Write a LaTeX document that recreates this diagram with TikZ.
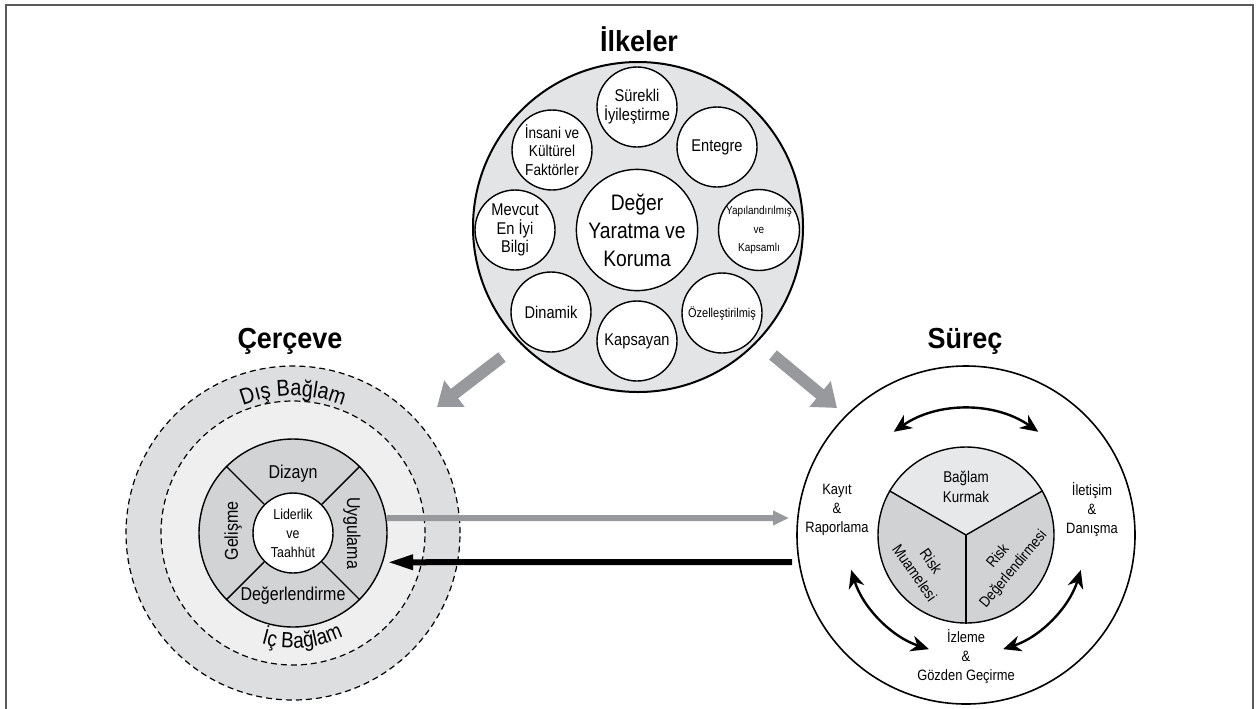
\documentclass[tikz,border=0pt]{standalone}
\usepackage{fontspec}
\setmainfont[FakeStretch=0.86]{Liberation Sans}
\newfontfamily\headfont[FakeStretch=0.93]{Liberation Sans}
\usepackage{tikz}
\usetikzlibrary{arrows.meta}
\usetikzlibrary{decorations.text}

\definecolor{framegray}{RGB}{90,90,90}
\definecolor{ilkefill}{RGB}{227,228,229}
\definecolor{disfill}{RGB}{221,222,223}
\definecolor{icfill}{RGB}{239,239,240}
\definecolor{dongufill}{RGB}{210,211,212}
\definecolor{pastafill}{RGB}{209,210,211}
\definecolor{pastatop}{RGB}{231,232,233}
\definecolor{okgray}{RGB}{152,153,156}

\tikzset{
  baslik/.style={font=\headfont\bfseries\fontsize{14.5}{16}\selectfont},
  ilke/.style={circle, draw, line width=0.7pt, fill=white, minimum size=40pt,
    inner sep=0pt, align=center, font=\fontsize{8.5}{9.4}\selectfont},
  halka/.style={font=\fontsize{9.3}{11}\selectfont},
  adim/.style={align=center, font=\fontsize{7.5}{9.5}\selectfont},
  ciftok/.style={line width=1.2pt,
    {Stealth[length=9pt,width=8pt]}-{Stealth[length=9pt,width=8pt]}},
  kesik/.style={draw, line width=0.6pt, dash pattern=on 3pt off 2pt}
}

\begin{document}
\begin{tikzpicture}[x=0.5pt,y=-0.5pt]
\useasboundingbox (0,0) rectangle (1258,708);
\coordinate (ilk) at (638,227);
\coordinate (cer) at (293,533);
\coordinate (sur) at (966,535);
\coordinate (solbas) at (502,357);
\coordinate (soluc) at (437,407);
\coordinate (sagbas) at (773,355);
\coordinate (saguc) at (837,408);
\coordinate (griuc) at (789,518);
\coordinate (siyahbas) at (792,562);
% draws frame
\draw[framegray, line width=1pt] (6,720) -- (6,5) -- (1253,5) -- (1253,720);
% titles
\node[baslik] (tilke) at (639,39) {İlkeler};
\node[baslik] (tcer) at (290,341) {Çerçeve};
\node[baslik] (tsur) at (965,341) {Süreç};
% draws principles
\node[circle, draw, line width=1pt, fill=ilkefill, minimum size=165pt] (ilkeler) at (ilk) {};
\node[ilke, minimum size=57pt, font=\fontsize{11.2}{14}\selectfont] (deger) at (637,230) {Değer\\Yaratma ve\\Koruma};
\node[ilke] (surekli) at (637,107) {Sürekli\\İyileştirme};
\node[ilke] (entegre) at (717,147) {Entegre};
\node[ilke, font=\fontsize{5.8}{9.2}\selectfont] (yapi) at (759,230) {Yapılandırılmış\\ve\\Kapsamlı};
\node[ilke, font=\fontsize{6.4}{8}\selectfont] (ozel) at (722,313) {Özelleştirilmiş};
\node[ilke] (kapsayan) at (637,341) {Kapsayan};
\node[ilke] (dinamik) at (551,312) {Dinamik};
\node[ilke] (mevcut) at (515,230) {Mevcut\\En İyi\\Bilgi};
\node[ilke, font=\fontsize{7.9}{9.2}\selectfont] (insani) at (552,150) {İnsani ve\\Kültürel\\Faktörler};
% draws framework
\node[circle, kesik, fill=disfill, minimum size=167pt] (dis) at (cer) {};
\node[circle, kesik, fill=icfill, minimum size=132pt] (ic) at (cer) {};
\node[circle, draw, line width=0.7pt, fill=dongufill, minimum size=94pt] (dongu) at (cer) {};
\node[circle, draw, line width=0.7pt, fill=white, minimum size=40pt, inner sep=0pt,
  align=center, font=\fontsize{7.2}{9.5}\selectfont] (liderlik) at (cer) {Liderlik\\ve\\Taahhüt};
\foreach \a in {45,135,225,315}
  \draw[line width=0.7pt] (liderlik.\a) -- (dongu.\a);
\node[halka] (dizayn) at (293,474) {Dizayn};
\node[halka] (degerl) at (293,596) {Değerlendirme};
\node[halka, rotate=-90] (uygulama) at (352,533) {Uygulama};
\node[halka, rotate=90] (gelisme) at (233,531) {Gelişme};
% labels along the rings
\path[decorate, decoration={text along path, text align=center,
  text={|\fontsize{11.5}{13}\selectfont|Dış Bağlam}}]
  ([shift={(210:137)}]cer) arc[start angle=210, end angle=330, radius=137];
\path[decorate, decoration={text along path, text align=center,
  text={|\fontsize{11}{13}\selectfont|İç Bağlam}}]
  ([shift={(145:115)}]cer) arc[start angle=145, end angle=25, radius=115];
% draws process
\node[circle, draw, line width=0.8pt, minimum size=169pt] (surec) at (sur) {};
\fill[pastatop] (sur) -- ([shift={(210:88)}]sur) arc[start angle=210, end angle=330, radius=88] -- cycle;
\fill[pastafill] (sur) -- ([shift={(330:88)}]sur) arc[start angle=330, end angle=450, radius=88] -- cycle;
\fill[pastafill] (sur) -- ([shift={(90:88)}]sur) arc[start angle=90, end angle=210, radius=88] -- cycle;
\node[circle, draw, line width=0.7pt, minimum size=88pt] (pasta) at (sur) {};
\draw[line width=0.7pt] (pasta.center) -- (pasta.150);
\draw[line width=0.7pt] (pasta.center) -- (pasta.30);
\draw[line width=0.7pt] (pasta.center) -- (pasta.270);
\node[adim, font=\fontsize{7.8}{10}\selectfont] (baglam) at (966,487) {Bağlam\\Kurmak};
\node[adim, font=\fontsize{7.8}{10}\selectfont, rotate=-55] (muamele) at (923,567) {Risk\\Muamelesi};
\node[adim, font=\fontsize{7.6}{10}\selectfont, rotate=50] (degerlendirme) at (1006,563) {Risk\\Değerlendirmesi};
\node[adim] (kayit) at (837,510) {Kayıt\\\&\\Raporlama};
\node[adim] (iletisim) at (1092,510) {İletişim\\\&\\Danışma};
\node[adim] (izleme) at (966,657) {İzleme\\\&\\Gözden Geçirme};
\draw[ciftok] ([shift={(235:126)}]sur) arc[start angle=235, end angle=305, radius=126];
\draw[ciftok] ([shift={(163:120)}]sur) arc[start angle=163, end angle=108, radius=120];
\draw[ciftok] ([shift={(17:120)}]sur) arc[start angle=17, end angle=72, radius=120];
% draws connecting arrows
\draw[line width=6pt, okgray, -{Triangle[length=11pt,width=16pt]}] (solbas) -- (soluc);
\draw[line width=6pt, okgray, -{Triangle[length=11pt,width=16pt]}] (sagbas) -- (saguc);
\draw[line width=3pt, okgray, -{Triangle[length=8pt,width=7pt]}] (dongu.9) -- (griuc);
\draw[line width=3pt, black, -{Triangle[length=13pt,width=7pt]}] (siyahbas) -- ([xshift=2pt]dongu.-18);
\end{tikzpicture}
\end{document}
